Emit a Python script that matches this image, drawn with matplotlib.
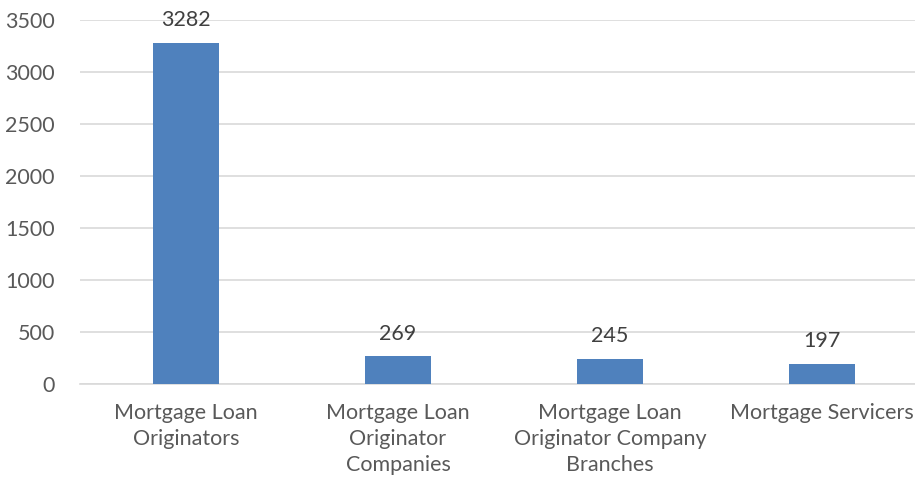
import matplotlib
matplotlib.use("Agg")
import matplotlib.pyplot as plt

categories = ["Mortgage Loan\nOriginators",
              "Mortgage Loan\nOriginator\nCompanies",
              "Mortgage Loan\nOriginator Company\nBranches",
              "Mortgage Servicers"]
counts = [3282, 269, 245, 197]
y_ticks = [0, 500, 1000, 1500, 2000, 2500, 3000, 3500]

plt.rcParams['font.family'] = ['Lato', 'DejaVu Sans']
text_col = '#595959'
fs = 15.5

fig = plt.figure(figsize=(9.15, 4.87), dpi=100)
ax = fig.add_axes([80/915, 1 - 384/487, 848/915, 364/487])

x = range(len(categories))
bars = ax.bar(x, counts, width=0.31, color='#4F81BD', zorder=3)
for b, v in zip(bars, counts):
    ax.annotate(str(v), (b.get_x() + b.get_width()/2, v), xytext=(0, 9),
                textcoords='offset points', ha='center', va='bottom',
                fontsize=fs, color='#404040')

ax.set_xlim(-0.5, 3.5)
ax.set_ylim(0, 3500)
ax.set_yticks(y_ticks)
ax.set_xticks(list(x))
ax.set_xticklabels(categories, linespacing=1.35)
ax.tick_params(axis='y', length=0, pad=18, labelsize=fs, labelcolor=text_col)
ax.tick_params(axis='x', length=0, pad=14, labelsize=fs, labelcolor=text_col)
ax.grid(axis='y', color='#D9D9D9', linewidth=1.2, zorder=0)
for s in ['top', 'right', 'left']:
    ax.spines[s].set_visible(False)
ax.spines['bottom'].set_color('#D9D9D9')
ax.spines['bottom'].set_linewidth(1.2)

fig.savefig('out.png', dpi=100)
